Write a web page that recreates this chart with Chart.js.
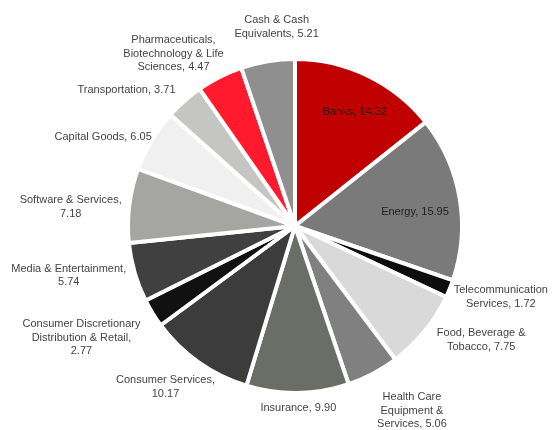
<!DOCTYPE html>
<html>
<head>
<meta charset="utf-8">
<script src="https://cdn.jsdelivr.net/npm/chart.js@4/dist/chart.umd.min.js"></script>
<style>
    html, body { margin: 0; padding: 0; background: #fff; }
    #wrap { width: 556px; height: 430px; }
</style>
</head>
<body>
<div id="wrap"><canvas id="sectorChart"></canvas></div>
<script>
// sector names ("\n" = line break in the label; a trailing "\n" puts the value on its own line)
var categories = [
    "Banks",
    "Energy",
    "Telecommunication\nServices",
    "Food, Beverage &\nTobacco",
    "Health Care\nEquipment &\nServices",
    "Insurance",
    "Consumer Services,\n",
    "Consumer Discretionary\nDistribution & Retail,\n",
    "Media & Entertainment,\n",
    "Software & Services,\n",
    "Capital Goods",
    "Transportation",
    "Pharmaceuticals,\nBiotechnology & Life\nSciences",
    "Cash & Cash\nEquivalents"
];
var weights = [14.32, 15.95, 1.72, 7.75, 5.06, 9.90, 10.17, 2.77, 5.74, 7.18, 6.05, 3.71, 4.47, 5.21];
var sliceColors = [
    "#C00000", "#7A7A7A", "#0D0D0D", "#D9D9D9", "#808080", "#6B6D67", "#3C3C3C",
    "#111111", "#404040", "#A5A6A1", "#F0F0F0", "#C5C6C2", "#FF1A2E", "#8F8F8F"
];
// labels drawn inside the slice
var insideLabel = [true, true, false, false, false, false, false, false, false, false, false, false, false, false];
// small hand nudges for label placement
var labelNudge = [[6, -3], [-2, 7], [0, 0], [16, -5], [19, 12], [0, 0], [0, 7], [-14, 10], [-3, -3], [0, 4], [0, 4], [-20, 0], [-20, 2], [17, -13]];

function labelLines(i) {
    var name = categories[i];
    var v = weights[i].toFixed(2);
    var txt = name.charAt(name.length - 1) === "\n" ? name + v : name + ", " + v;
    return txt.split("\n");
}

var pieLabels = {
    id: 'pieLabels',
    afterDatasetsDraw: function (chart) {
        var ctx = chart.ctx;
        var meta = chart.getDatasetMeta(0);
        var lineH = 13.5;
        ctx.save();
        ctx.font = '11px "Liberation Sans", Arial, sans-serif';
        ctx.textAlign = 'center';
        ctx.textBaseline = 'middle';
        meta.data.forEach(function (arc, i) {
            var lines = labelLines(i);
            var mid = (arc.startAngle + arc.endAngle) / 2;
            var c = Math.cos(mid), s = Math.sin(mid);
            var R = arc.outerRadius - 2;
            var cx, cy;
            if (insideLabel[i]) {
                cx = arc.x + c * R * 0.75;
                cy = arc.y + s * R * 0.75;
                ctx.fillStyle = '#1e1e1e';
            } else {
                var w = 0;
                lines.forEach(function (l) { w = Math.max(w, ctx.measureText(l).width); });
                var h = lines.length * lineH;
                cx = arc.x + c * (R + 10) + c * w / 2;
                cy = arc.y + s * (R + 10) + s * h / 2;
                ctx.fillStyle = '#444444';
            }
            cx += labelNudge[i][0];
            cy += labelNudge[i][1];
            var y0 = cy - (lines.length - 1) * lineH / 2;
            lines.forEach(function (l, k) {
                ctx.fillText(l, cx, y0 + k * lineH);
            });
        });
        ctx.restore();
    }
};

var ctx = document.getElementById('sectorChart').getContext('2d');
var sectorChart = new Chart(ctx, {
    type: 'pie',
    data: {
        labels: categories.map(function (c) { return c.replace(/\n/g, ' ').trim(); }),
        datasets: [{
            data: weights,
            backgroundColor: sliceColors,
            borderColor: '#ffffff',
            borderWidth: 4
        }]
    },
    options: {
        responsive: true,
        maintainAspectRatio: false,
        animation: false,
        layout: {
            padding: { left: 126, right: 92, top: 57, bottom: 35 }
        },
        plugins: {
            legend: { display: false },
            tooltip: { enabled: false }
        }
    },
    plugins: [pieLabels]
});
</script>
</body>
</html>
